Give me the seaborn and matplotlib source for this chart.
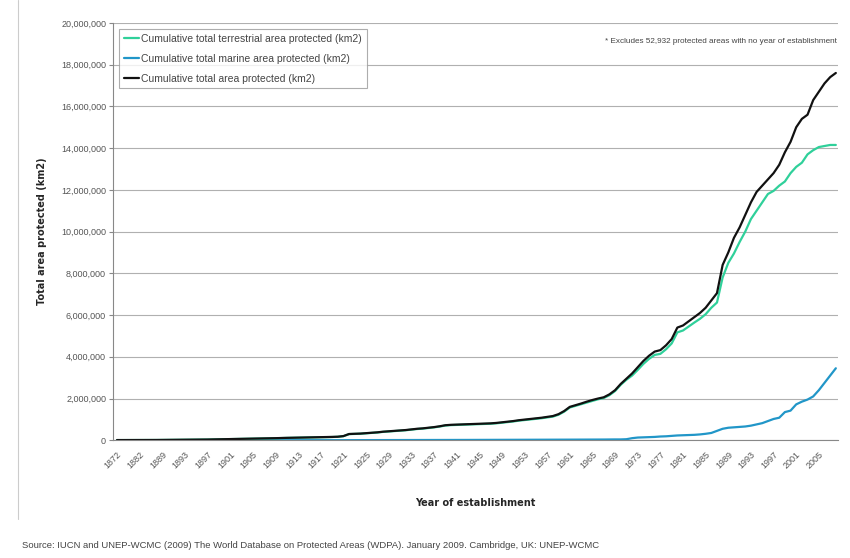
import numpy as np
import pandas as pd
import seaborn as sns
import matplotlib.pyplot as plt
from matplotlib.lines import Line2D

# categories on the x axis (Excel-style category axis)
years = [1872, 1874, 1878, 1879, 1882, 1883, 1885, 1887] + list(range(1889, 2009))

# cumulative area, million km2
total = [
    0.009, 0.009, 0.010, 0.010, 0.011, 0.012, 0.012, 0.013,
    # 1889-1900
    0.015, 0.016, 0.020, 0.022, 0.024, 0.026, 0.030, 0.032, 0.035, 0.040, 0.045, 0.050,
    # 1901-1910
    0.055, 0.060, 0.065, 0.070, 0.075, 0.080, 0.085, 0.090, 0.100, 0.110,
    # 1911-1920
    0.115, 0.120, 0.125, 0.130, 0.135, 0.140, 0.145, 0.150, 0.160, 0.170,
    # 1921-1930
    0.200, 0.300, 0.310, 0.320, 0.340, 0.360, 0.380, 0.410, 0.430, 0.450,
    # 1931-1940
    0.470, 0.490, 0.520, 0.550, 0.570, 0.600, 0.630, 0.670, 0.720, 0.740,
    # 1941-1950
    0.750, 0.760, 0.770, 0.780, 0.790, 0.800, 0.810, 0.830, 0.860, 0.890,
    # 1951-1960
    0.920, 0.960, 0.990, 1.020, 1.050, 1.080, 1.120, 1.160, 1.250, 1.400,
    # 1961-1970
    1.600, 1.680, 1.760, 1.850, 1.930, 2.000, 2.060, 2.200, 2.400, 2.700,
    # 1971-1980
    2.950, 3.200, 3.500, 3.800, 4.050, 4.250, 4.320, 4.550, 4.850, 5.400,
    # 1981-1990
    5.500, 5.700, 5.900, 6.100, 6.350, 6.700, 7.050, 8.400, 9.000, 9.700,
    # 1991-2000
    10.20, 10.80, 11.40, 11.90, 12.20, 12.50, 12.80, 13.20, 13.80, 14.30,
    # 2001-2008
    15.00, 15.40, 15.60, 16.30, 16.70, 17.10, 17.40, 17.60,
]

terrestrial = [
    0.009, 0.009, 0.010, 0.010, 0.011, 0.012, 0.012, 0.013,
    0.015, 0.016, 0.020, 0.022, 0.024, 0.026, 0.030, 0.032, 0.035, 0.040, 0.045, 0.050,
    0.053, 0.058, 0.063, 0.068, 0.073, 0.078, 0.083, 0.088, 0.097, 0.107,
    0.112, 0.117, 0.122, 0.127, 0.131, 0.136, 0.141, 0.146, 0.155, 0.165,
    0.195, 0.294, 0.304, 0.313, 0.333, 0.352, 0.372, 0.401, 0.421, 0.440,
    0.460, 0.479, 0.509, 0.538, 0.558, 0.587, 0.617, 0.656, 0.705, 0.725,
    0.735, 0.744, 0.754, 0.763, 0.773, 0.783, 0.792, 0.811, 0.841, 0.870,
    0.900, 0.939, 0.968, 0.997, 1.026, 1.055, 1.094, 1.133, 1.222, 1.370,
    1.570, 1.650, 1.730, 1.815, 1.895, 1.965, 2.025, 2.160, 2.360, 2.660,
    2.900, 3.100, 3.370, 3.660, 3.900, 4.090, 4.140, 4.360, 4.640, 5.170,
    5.260, 5.450, 5.640, 5.820, 6.040, 6.350, 6.600, 7.800, 8.500, 8.950,
    9.500, 10.00, 10.60, 11.00, 11.40, 11.80, 11.95, 12.20, 12.40, 12.80,
    13.10, 13.30, 13.70, 13.90, 14.05, 14.10, 14.15, 14.15,
]

marine = [
    0.0, 0.0, 0.0, 0.0, 0.0, 0.0, 0.0, 0.0,
    0.0, 0.0, 0.0, 0.0, 0.0, 0.0, 0.0, 0.0, 0.0, 0.0, 0.0, 0.0,
    0.002, 0.002, 0.002, 0.002, 0.002, 0.002, 0.002, 0.002, 0.003, 0.003,
    0.003, 0.003, 0.003, 0.003, 0.004, 0.004, 0.004, 0.004, 0.005, 0.005,
    0.005, 0.006, 0.006, 0.007, 0.007, 0.008, 0.008, 0.009, 0.009, 0.010,
    0.010, 0.011, 0.011, 0.012, 0.012, 0.013, 0.013, 0.014, 0.015, 0.015,
    0.015, 0.016, 0.016, 0.017, 0.017, 0.017, 0.018, 0.019, 0.019, 0.020,
    0.020, 0.021, 0.022, 0.023, 0.024, 0.025, 0.026, 0.027, 0.028, 0.030,
    0.030, 0.030, 0.030, 0.035, 0.035, 0.035, 0.035, 0.040, 0.040, 0.040,
    0.050, 0.100, 0.130, 0.140, 0.150, 0.160, 0.180, 0.190, 0.210, 0.230,
    0.240, 0.250, 0.260, 0.280, 0.310, 0.350, 0.450, 0.550, 0.600, 0.620,
    0.640, 0.660, 0.700, 0.760, 0.820, 0.920, 1.020, 1.080, 1.350, 1.420,
    1.720, 1.850, 1.950, 2.100, 2.400, 2.750, 3.100, 3.450,
]

label_years = [1872, 1882] + list(range(1889, 2006, 4))

df = pd.DataFrame({
    "pos": np.arange(len(years)),
    "year": years,
    "terrestrial": np.array(terrestrial) * 1e6,
    "marine": np.array(marine) * 1e6,
    "total": np.array(total) * 1e6,
})

sns.set_style("white")
plt.rcParams['font.family'] = ['Liberation Sans', 'DejaVu Sans']

fig = plt.figure(figsize=(8.5, 5.58), dpi=100)
ax = fig.add_axes([0.133, 0.211, 0.853, 0.748])

c_terr = "#2fd09a"
c_mar = "#2196c8"
c_tot = "#111111"

sns.lineplot(data=df, x="pos", y="marine", color=c_mar, linewidth=1.6, ax=ax)
sns.lineplot(data=df, x="pos", y="terrestrial", color=c_terr, linewidth=1.6, ax=ax)
sns.lineplot(data=df, x="pos", y="total", color=c_tot, linewidth=1.6, ax=ax)

ax.set_xlim(-0.7, 127.4)
ax.set_ylim(0, 20e6)
ax.set_yticks(np.arange(0, 20e6 + 1, 2e6))
ax.set_yticklabels([f"{int(v):,}" for v in np.arange(0, 20e6 + 1, 2e6)],
                   fontsize=6.5, color="#555555")
ax.yaxis.grid(True, color="#b0b0b0", linewidth=0.8)
ax.xaxis.grid(False)

tick_pos = [years.index(y) for y in label_years]
ax.set_xticks(tick_pos)
ax.set_xticklabels([str(y) for y in label_years], rotation=45, ha="right",
                   rotation_mode="anchor", fontsize=6.5, color="#555555")
ax.set_xticks(np.arange(len(years)), minor=True)
ax.tick_params(axis="x", which="major", length=3, color="#888888", pad=4)
ax.tick_params(axis="x", which="minor", length=2, color="#bbbbbb")
ax.tick_params(axis="y", length=3, color="#888888", left=True, pad=2)

for s in ["top", "right"]:
    ax.spines[s].set_visible(False)
for s in ["left", "bottom"]:
    ax.spines[s].set_color("#888888")
    ax.spines[s].set_linewidth(0.8)

ax.set_xlabel("Year of establishment", fontsize=7, fontweight="bold",
              family="DejaVu Sans", labelpad=20)
ax.set_ylabel("Total area protected (km2)", fontsize=7, fontweight="bold",
              family="DejaVu Sans", labelpad=10)

handles = [Line2D([0], [0], color=c_terr, linewidth=1.6),
           Line2D([0], [0], color=c_mar, linewidth=1.6),
           Line2D([0], [0], color=c_tot, linewidth=1.6)]
labels = ["Cumulative total terrestrial area protected (km2)",
          "Cumulative total marine area protected (km2)",
          "Cumulative total area protected (km2)"]
leg = ax.legend(handles, labels, loc="upper left", bbox_to_anchor=(0.008, 0.985),
                fontsize=7.5, frameon=True, fancybox=False, edgecolor="#999999",
                handlelength=1.5, handletextpad=0.2, borderpad=0.45,
                labelspacing=0.95, borderaxespad=0)
leg.get_frame().set_linewidth(0.8)
for t in leg.get_texts():
    t.set_color("#444444")

ax.text(0.998, 0.955, "* Excludes 52,932 protected areas with no year of establishment",
        transform=ax.transAxes, ha="right", va="center", fontsize=5.9, color="#444444")

fig.text(0.026, 0.022, "Source: IUCN and UNEP-WCMC (2009) The World Database on Protected "
         "Areas (WDPA). January 2009. Cambridge, UK: UNEP-WCMC",
         fontsize=6.8, color="#444444", ha="left", va="center")

fig.add_artist(Line2D([0.021, 0.021], [0.07, 1.0], transform=fig.transFigure,
                      color="#cccccc", linewidth=0.8))

fig.savefig("out.png", dpi=100)
